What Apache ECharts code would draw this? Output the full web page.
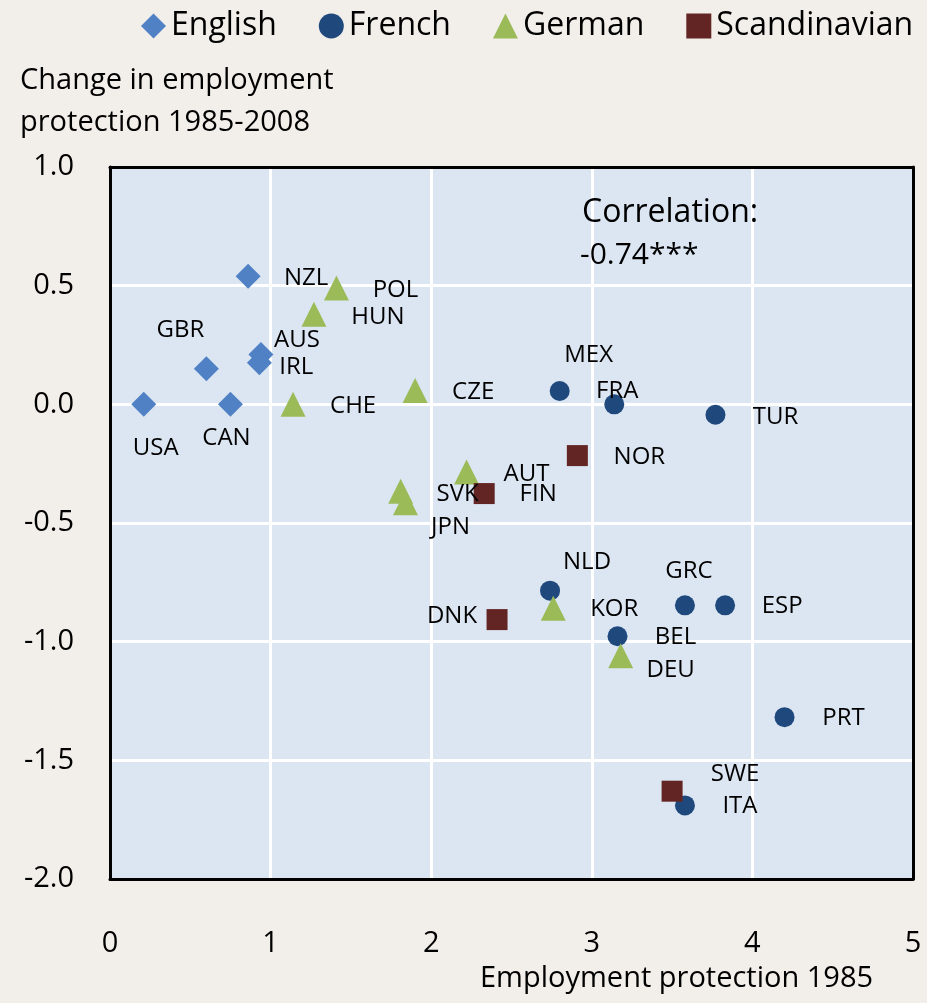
<!DOCTYPE html>
<html>
<head>
<meta charset="utf-8">
<script src="https://cdn.jsdelivr.net/npm/echarts@6/dist/echarts.min.js"></script>
<style>
  html, body { margin: 0; padding: 0; background: #f2efea; }
  #chart { width: 927px; height: 1003px; }
</style>
</head>
<body>
<div id="chart"></div>
<script>
// Employment protection 1985 (x) vs change 1985-2008 (y)
const englishNames = ['USA', 'CAN', 'GBR', 'AUS', 'IRL', 'NZL']
const englishX = [0.21, 0.75, 0.60, 0.94, 0.93, 0.86]
const englishY = [0.00, 0.00, 0.15, 0.21, 0.175, 0.54]

const frenchNames = ['MEX', 'FRA', 'TUR', 'NLD', 'GRC', 'ESP', 'BEL', 'PRT', 'ITA']
const frenchX = [2.80, 3.14, 3.77, 2.74, 3.58, 3.83, 3.16, 4.20, 3.58]
const frenchY = [0.056, 0.00, -0.044, -0.785, -0.847, -0.847, -0.977, -1.318, -1.69]

const germanNames = ['POL', 'HUN', 'CHE', 'CZE', 'AUT', 'SVK', 'JPN', 'KOR', 'DEU']
const germanX = [1.41, 1.27, 1.14, 1.90, 2.22, 1.81, 1.84, 2.76, 3.18]
const germanY = [0.49, 0.38, 0.00, 0.058, -0.285, -0.366, -0.415, -0.859, -1.059]

const scandNames = ['NOR', 'FIN', 'DNK', 'SWE']
const scandX = [2.91, 2.33, 2.41, 3.50]
const scandY = [-0.216, -0.376, -0.907, -1.63]

const xTicks = [0, 1, 2, 3, 4, 5]
const yTicks = [-2.0, -1.5, -1.0, -0.5, 0.0, 0.5, 1.0]

// label placement (pixel offsets from the marker)
const labelOffsets = {
  USA: [12, 44], CAN: [-4, 34], GBR: [-26, -39], AUS: [36, -14], IRL: [37, 4], NZL: [58, 2],
  MEX: [29, -36], FRA: [3, -13], TUR: [60, 2], NLD: [37, -28], GRC: [4, -34], ESP: [57, 1],
  BEL: [58, 1], PRT: [59, 1], ITA: [55, 1],
  POL: [59, 2], HUN: [64, 3], CHE: [60, 2], CZE: [58, 2], AUT: [60, 2], SVK: [57, 3],
  JPN: [45, 24], KOR: [61, 1], DEU: [50, 14],
  NOR: [62, 2], FIN: [54, 1], DNK: [-45, -3], SWE: [63, -17]
}

function points (names, xs, ys) {
  return names.map((n, i) => ({
    name: n,
    value: [xs[i], ys[i]],
    label: { offset: labelOffsets[n] }
  }))
}

const labelStyle = {
  show: true,
  position: 'inside',
  formatter: '{b}',
  color: '#000',
  fontFamily: 'Open Sans',
  fontSize: 24
}

function makeSeries (name, symbol, size, color, names, xs, ys) {
  return {
    name: name,
    type: 'scatter',
    symbol: symbol,
    symbolSize: size,
    itemStyle: { color: color, opacity: 1 },
    label: labelStyle,
    emphasis: { disabled: true },
    data: points(names, xs, ys)
  }
}

const frameAxis = {
  type: 'value',
  axisLine: { show: true, onZero: false, lineStyle: { color: '#000', width: 3 } },
  axisTick: { show: false },
  axisLabel: { show: false },
  splitLine: { show: false }
}

const myChart = echarts.init(document.getElementById('chart'))
const option = {
  backgroundColor: '#f2efea',
  animation: false,
  legend: {
    top: 5,
    left: 136,
    itemGap: 42,
    itemWidth: 25,
    itemHeight: 25,
    textStyle: { fontFamily: 'Open Sans', fontSize: 32, color: '#000', padding: [0, 0, 0, 0] },
    data: [
      { name: 'English', icon: 'diamond' },
      { name: 'French', icon: 'circle' },
      { name: 'German', icon: 'triangle' },
      { name: 'Scandinavian', icon: 'rect' }
    ]
  },
  grid: {
    left: 110,
    right: 14,
    top: 167,
    bottom: 124,
    show: true,
    backgroundColor: '#dce6f2',
    borderWidth: 0
  },
  graphic: [
    {
      type: 'text', left: 20, top: 60, z: 10,
      style: { text: 'Change in employment\nprotection 1985-2008', fontFamily: 'Open Sans', fontSize: 29, lineHeight: 42, fill: '#000' }
    },
    {
      type: 'text', left: 480, top: 964, z: 10,
      style: { text: 'Employment protection 1985', fontFamily: 'Open Sans', fontSize: 29, fill: '#000' }
    },
    {
      type: 'text', left: 582, top: 197, z: 10,
      style: { text: 'Correlation:', fontFamily: 'Open Sans', fontSize: 32, fill: '#000' }
    },
    {
      type: 'text', left: 580, top: 240, z: 10,
      style: { text: '-0.74***', fontFamily: 'Open Sans', fontSize: 30, fill: '#000' }
    }
  ],
  xAxis: [
    {
      type: 'value',
      min: xTicks[0],
      max: xTicks[xTicks.length - 1],
      interval: 1,
      axisLine: { show: true, onZero: false, lineStyle: { color: '#000', width: 3 } },
      axisTick: { show: false },
      splitLine: { show: true, lineStyle: { color: '#fff', width: 3 } },
      axisLabel: { margin: 50, fontFamily: 'Open Sans', fontSize: 29, color: '#000' }
    },
    Object.assign({}, frameAxis, { position: 'top', min: xTicks[0], max: xTicks[xTicks.length - 1] })
  ],
  yAxis: [
    {
      type: 'value',
      min: yTicks[0],
      max: yTicks[yTicks.length - 1],
      interval: 0.5,
      axisLine: { show: true, onZero: false, lineStyle: { color: '#000', width: 3 } },
      axisTick: { show: false },
      splitLine: { show: true, lineStyle: { color: '#fff', width: 3 } },
      axisLabel: {
        margin: 36,
        fontFamily: 'Open Sans',
        fontSize: 29,
        color: '#000',
        formatter: v => v.toFixed(1)
      }
    },
    Object.assign({}, frameAxis, { position: 'right', min: yTicks[0], max: yTicks[yTicks.length - 1] })
  ],
  series: [
    makeSeries('English', 'diamond', 25, '#4f81c4', englishNames, englishX, englishY),
    makeSeries('French', 'circle', 20, '#1f497d', frenchNames, frenchX, frenchY),
    makeSeries('German', 'triangle', 25, '#9bbb59', germanNames, germanX, germanY),
    makeSeries('Scandinavian', 'rect', 21, '#632523', scandNames, scandX, scandY)
  ]
}
myChart.setOption(option)
</script>
</body>
</html>
